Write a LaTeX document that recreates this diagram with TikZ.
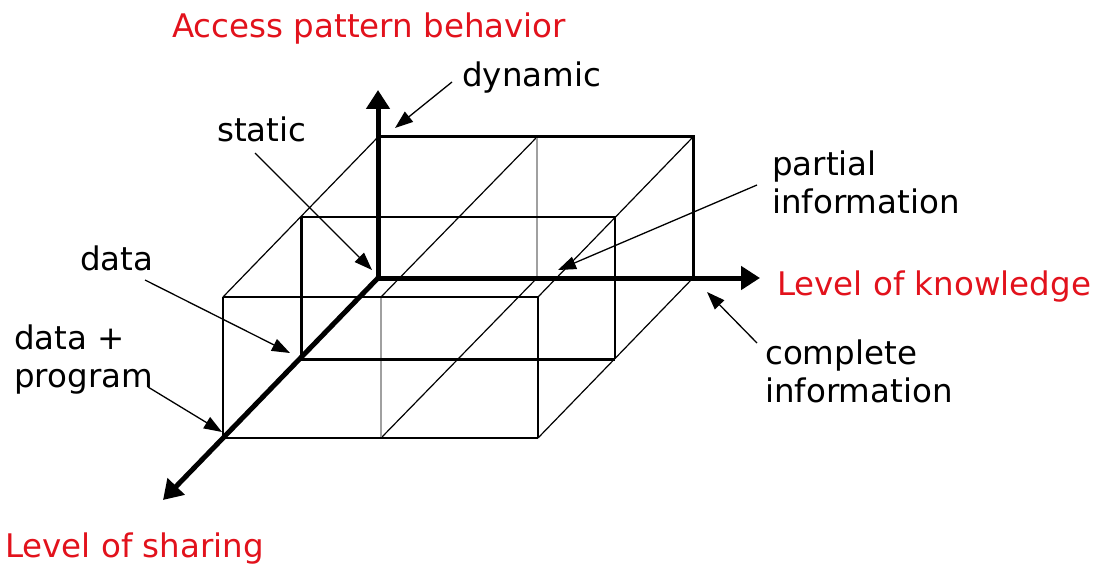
\documentclass[tikz,border=0pt]{standalone}
\usepackage{fontspec}
\setmainfont{DejaVu Sans}
\usetikzlibrary{arrows.meta}
\definecolor{axred}{RGB}{226,18,28}
\definecolor{midgray}{RGB}{160,160,160}
\begin{document}
\begin{tikzpicture}[x=1pt,y=-1pt,
  lbl/.style={inner sep=0pt, font=\fontsize{32.5}{38}\selectfont, text=black},
  redlbl/.style={lbl, text=axred},
  axisline/.style={line width=5pt, -{Triangle[length=19pt,width=23pt]}},
  ann/.style={line width=1.3pt, -{Triangle[length=18pt,width=13pt]}},
  thinedge/.style={line width=1.2pt},
  heavyedge/.style={line width=3pt},
  mededge/.style={line width=2.2pt},
  grayedge/.style={line width=2.2pt, draw=midgray}
]
\useasboundingbox (0,0) rectangle (1099,564);
% corners
\coordinate (O) at (378,278);
\coordinate (BTL) at (378,137);
\coordinate (BTM) at (537,137);
\coordinate (BTR) at (693,137);
\coordinate (BBM) at (537,278);
\coordinate (BBR) at (693,278);
\coordinate (FTL) at (223,297);
\coordinate (FTM) at (381,297);
\coordinate (FTR) at (538,297);
\coordinate (FBL) at (223,438);
\coordinate (FBM) at (381,438);
\coordinate (FBR) at (538,438);
\coordinate (MTL) at (301,217);
\coordinate (MTR) at (615,217);
\coordinate (MBL) at (301,359);
\coordinate (MBR) at (615,359);
\coordinate (Vtip) at (378,90);
\coordinate (Htip) at (760,278);
\coordinate (Dtip) at (163,500);
% depth edges
\draw[thinedge] (BTL) -- (FTL);
\draw[thinedge] (BTM) -- (FTM);
\draw[thinedge] (BTR) -- (FTR);
\draw[thinedge] (BBM) -- (FBM);
\draw[thinedge] (BBR) -- (FBR);
% gray middle verticals
\draw[grayedge] (BTM) -- (BBM);
\draw[grayedge] (FTM) -- (FBM);
% middle layer
\draw[thinedge] (MTL) -- (MTR) -- (MBR);
\draw[heavyedge] (MTL) -- (MBL) -- (MBR);
% front face
\draw[thinedge, line width=1.5pt] (FTL) -- (FBL) -- (FBR);
\draw[mededge] (FTL) -- (FTR) -- (FBR);
% back face
\draw[heavyedge] (BTL) -- (BTR) -- (BBR);
% axes
\draw[axisline] (O) -- (Vtip);
\draw[axisline] (O) -- (Htip);
\draw[axisline] (O) -- (Dtip);
% labels
\node[redlbl, anchor=base west] (apb) at (172,38) {Access pattern behavior};
\node[lbl, anchor=base west] (dyn) at (462,87) {dynamic};
\node[lbl, anchor=base west] (stat) at (217,142) {static};
\node[lbl, anchor=north west, align=left] (part) at (772,151) {partial\\information};
\node[redlbl, anchor=base west] (lok) at (777,295) {Level of knowledge};
\node[lbl, anchor=north west, align=left] (comp) at (765,340) {complete\\information};
\node[lbl, anchor=base west] (data) at (80,270) {data};
\node[lbl, anchor=north west, align=left] (dp) at (14,325) {data +\\program};
\node[redlbl, anchor=base west] (los) at (5,557) {Level of sharing};
% annotation arrows
\coordinate (dynS) at (452,82);   \coordinate (dynT) at (395,128);
\coordinate (statS) at (255,153); \coordinate (statT) at (372,270);
\coordinate (partS) at (757,185); \coordinate (partT) at (558,270);
\coordinate (compS) at (757,343); \coordinate (compT) at (707,292);
\coordinate (dataS) at (145,280); \coordinate (dataT) at (290,353);
\coordinate (dpS) at (148,387);   \coordinate (dpT) at (222,432);
\draw[ann] (dynS) -- (dynT);
\draw[ann] (statS) -- (statT);
\draw[ann] (partS) -- (partT);
\draw[ann] (compS) -- (compT);
\draw[ann] (dataS) -- (dataT);
\draw[ann] (dpS) -- (dpT);
\end{tikzpicture}
\end{document}
